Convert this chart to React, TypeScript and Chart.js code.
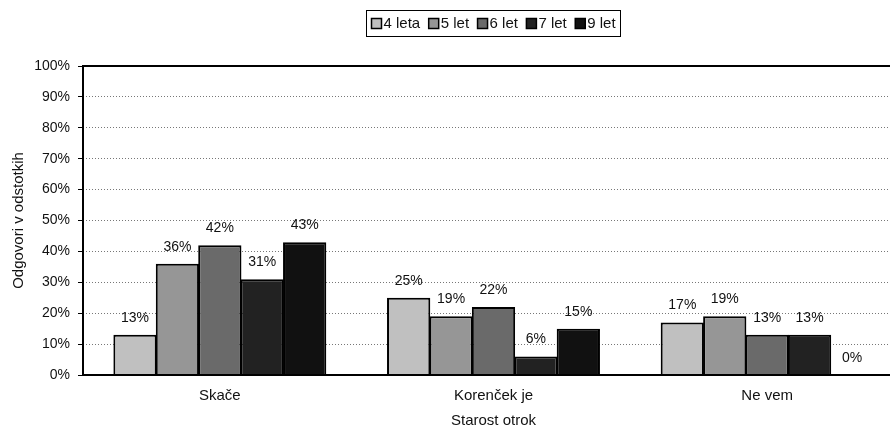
import React, { useEffect, useRef } from "react";
import { Chart, registerables } from "chart.js";

Chart.register(...registerables);

const categories = ["Skače", "Korenček je", "Ne vem"];
const seriesLabels = ["4 leta", "5 let", "6 let", "7 let", "9 let"];
const age4 = [13, 25, 17];
const age5 = [36, 19, 19];
const age6 = [42, 22, 13];
const age7 = [31, 6, 13];
const age9 = [43, 15, 0];
const seriesColors = ["#c0c0c0", "#969696", "#6a6a6a", "#222222", "#111111"];
const yMin = 0;
const yMax = 100;
const yStep = 10;
const yTitle = "Odgovori v odstotkih";
const xTitle = "Starost otrok";

const FONT = '"Liberation Sans", Arial, sans-serif';

const framePlugin = {
  id: "frame",
  afterDraw(chart: any) {
    const { ctx, chartArea } = chart;
    ctx.save();
    ctx.strokeStyle = "#000";
    ctx.lineWidth = 2;
    ctx.beginPath();
    ctx.moveTo(chartArea.right + 5, chartArea.top);
    ctx.lineTo(chartArea.left, chartArea.top);
    ctx.lineTo(chartArea.left, chartArea.bottom);
    ctx.lineTo(chartArea.right + 5, chartArea.bottom);
    ctx.stroke();
    ctx.restore();
  },
};

const valueLabelPlugin = {
  id: "valueLabels",
  afterDatasetsDraw(chart: any) {
    const { ctx } = chart;
    ctx.save();
    ctx.font = `14px ${FONT}`;
    ctx.fillStyle = "#111";
    ctx.textAlign = "center";
    ctx.textBaseline = "middle";
    chart.data.datasets.forEach((ds: any, di: number) => {
      const meta = chart.getDatasetMeta(di);
      meta.data.forEach((bar: any, i: number) => {
        ctx.fillText(`${ds.data[i]}%`, bar.x, bar.y - 17);
      });
    });
    ctx.restore();
  },
};

const boxLegendPlugin = {
  id: "boxLegend",
  afterDraw(chart: any) {
    const { ctx, chartArea } = chart;
    ctx.save();
    ctx.font = `15px ${FONT}`;
    const sq = 10;
    const gap = 2;
    const spacing = 8.5;
    const padX = 5;
    const items = chart.data.datasets.map((ds: any) => ({
      label: ds.label,
      color: ds.backgroundColor,
      w: ctx.measureText(ds.label).width,
    }));
    let total = padX * 2;
    items.forEach((it: any, i: number) => {
      total += sq + gap + it.w + (i < items.length - 1 ? spacing : 0);
    });
    const cx = (chartArea.left + chartArea.right) / 2;
    const top = 10;
    const h = 26;
    const left = Math.round(cx - total / 2) + 0.5;
    ctx.strokeStyle = "#000";
    ctx.lineWidth = 1;
    ctx.strokeRect(left, top + 0.5, Math.round(total), h);
    let x = left + padX;
    const cy = top + h / 2 + 0.5;
    items.forEach((it: any) => {
      ctx.fillStyle = it.color;
      ctx.fillRect(x, cy - sq / 2, sq, sq);
      ctx.strokeStyle = "#000";
      ctx.lineWidth = 1.5;
      ctx.strokeRect(x, cy - sq / 2, sq, sq);
      x += sq + gap;
      ctx.fillStyle = "#111";
      ctx.textAlign = "left";
      ctx.textBaseline = "middle";
      ctx.fillText(it.label, x, cy + 0.5);
      x += it.w + spacing;
    });
    ctx.restore();
  },
};

export default function App() {
  const ref = useRef<HTMLCanvasElement | null>(null);

  useEffect(() => {
    if (!ref.current) return;
    const seriesData = [age4, age5, age6, age7, age9];
    const chart = new Chart(ref.current, {
      type: "bar",
      data: {
        labels: categories,
        datasets: seriesLabels.map((label, i) => ({
          label,
          data: seriesData[i],
          backgroundColor: seriesColors[i],
          borderColor: "#000",
          borderWidth: 2,
          barPercentage: 1.02,
          categoryPercentage: 0.775,
        })),
      },
      options: {
        responsive: false,
        animation: false,
        devicePixelRatio: 1,
        layout: { padding: { top: 66, left: 0, right: 0, bottom: 0 } },
        plugins: {
          legend: { display: false },
          tooltip: { enabled: false },
        },
        scales: {
          x: {
            afterFit: (scale: any) => {
              scale.height = 55;
            },
            grid: { display: false, drawTicks: false },
            border: { display: false },
            ticks: {
              color: "#111",
              font: { family: FONT, size: 15 },
              padding: 12,
            },
            title: {
              display: true,
              text: xTitle,
              color: "#111",
              font: { family: FONT, size: 15 },
              padding: { top: 0, bottom: 0 },
            },
          },
          y: {
            min: yMin,
            max: yMax,
            afterFit: (scale: any) => {
              scale.width = 83;
            },
            ticks: {
              stepSize: yStep,
              color: "#111",
              font: { family: FONT, size: 14 },
              padding: 8,
              callback: (v: any) => `${v}%`,
            },
            grid: {
              color: "#777",
              lineWidth: 1,
              drawTicks: true,
              tickLength: 5,
              tickColor: "#000",
              tickWidth: 1,
              tickBorderDash: [],
            },
            border: { display: false, dash: [1, 2] },
            title: {
              display: true,
              text: yTitle,
              color: "#111",
              font: { family: FONT, size: 15 },
              padding: { top: 10, bottom: 0 },
            },
          },
        },
      },
      plugins: [valueLabelPlugin, framePlugin, boxLegendPlugin],
    } as any);
    return () => chart.destroy();
  }, []);

  return (
    <div
      style={{
        position: "fixed",
        left: 0,
        top: 0,
        width: 890,
        height: 430,
        overflow: "hidden",
        background: "#fff",
      }}
    >
      <canvas ref={ref} width={904} height={430} style={{ display: "block" }} />
    </div>
  );
}
